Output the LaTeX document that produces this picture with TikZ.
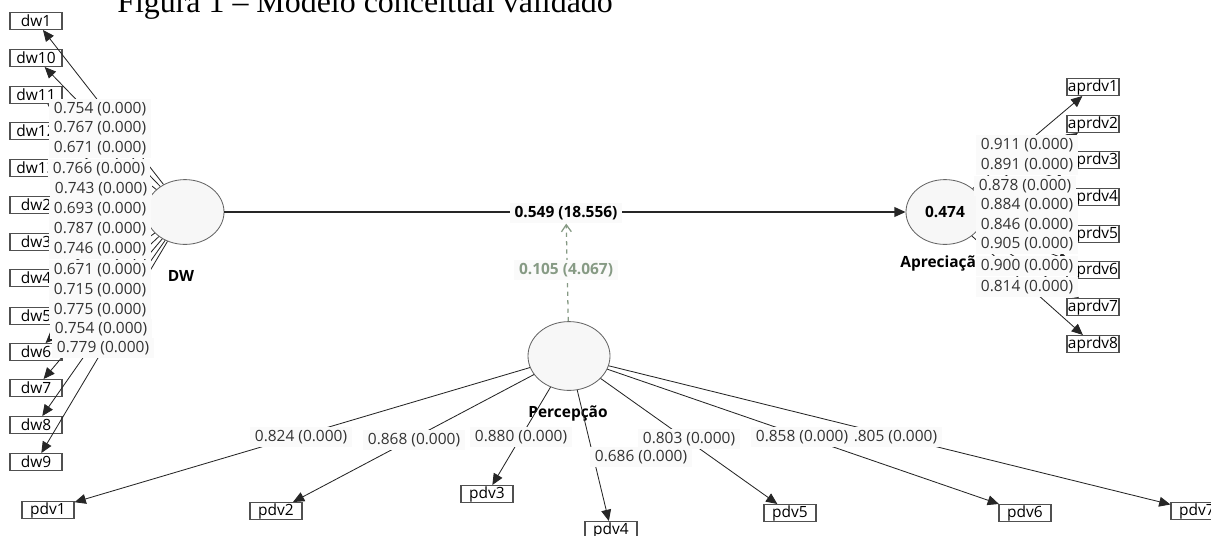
\documentclass[tikz,border=0pt]{standalone}
\usepackage{fontspec}
\setsansfont{Open Sans}
\newfontfamily\legendafont{Liberation Serif}
\usepackage{tikz}
\usetikzlibrary{arrows.meta, shapes.geometric}
\definecolor{plsborda}{HTML}{505050}
\definecolor{plsfundo}{HTML}{F7F7F7}
\definecolor{plsrotulo}{HTML}{FAFAFA}
\definecolor{plsverde}{HTML}{869A84}

\begin{document}
\begin{tikzpicture}[
        x=0.025cm,
        y=-0.025cm,
        font=\sffamily\fontsize{11}{13}\selectfont,
        construto/.style={
            ellipse,
            draw=black!60,
            fill=plsfundo,
            line width=0.6pt,
            minimum width=1.95cm,
            minimum height=1.62cm,
            inner sep=0pt
        },
        nomeconstruto/.style={
            font=\sffamily\bfseries\fontsize{11}{13}\selectfont
        },
        indicador/.style={
            draw=plsborda,
            line width=0.8pt,
            fill=white,
            minimum width=1.3cm,
            minimum height=0.42cm,
            inner sep=0.5pt
        },
        carga/.style={
            fill=plsrotulo,
            text=black!80,
            inner xsep=3.5pt,
            inner ysep=2.5pt
        },
        seta/.style={
            draw=black!85,
            line width=0.6pt,
            -{Triangle[length=8pt,width=7pt]}
        }
    ]

    \useasboundingbox (0,0) rectangle (1211,535);
    \begin{scope}
    \clip (0,0) rectangle (1211,535);

    % Legenda (cortada no topo)
    \node[anchor=base west, inner sep=0pt, font=\legendafont\fontsize{22.7}{26}\selectfont] (legenda) at (117,12)
        {Figura 1 – Modelo conceitual validado};

    % Indicadores de DW
    \node[indicador] (dw1) at (36,21) {dw1};
    \node[indicador] (dw10) at (36,58) {dw10};
    \node[indicador] (dw11) at (36,95) {dw11};
    \node[indicador] (dw12) at (36,131) {dw12};
    \node[indicador] (dw13) at (36,168) {dw13};
    \node[indicador] (dw2) at (36,205) {dw2};
    \node[indicador] (dw3) at (36,242) {dw3};
    \node[indicador] (dw4) at (36,278) {dw4};
    \node[indicador] (dw5) at (36,316) {dw5};
    \node[indicador] (dw6) at (36,352) {dw6};
    \node[indicador] (dw7) at (36,388) {dw7};
    \node[indicador] (dw8) at (36,425) {dw8};
    \node[indicador] (dw9) at (36,462) {dw9};

    % Indicadores de Apreciação
    \node[indicador] (aprdv1) at (1093,87) {aprdv1};
    \node[indicador] (aprdv2) at (1093,124) {aprdv2};
    \node[indicador] (aprdv3) at (1093,160) {aprdv3};
    \node[indicador] (aprdv4) at (1093,197) {aprdv4};
    \node[indicador] (aprdv5) at (1093,234) {aprdv5};
    \node[indicador] (aprdv6) at (1093,270) {aprdv6};
    \node[indicador] (aprdv7) at (1093,307) {aprdv7};
    \node[indicador] (aprdv8) at (1093,344) {aprdv8};

    % Indicadores de Percepção
    \node[indicador] (pdv1) at (48,510) {pdv1};
    \node[indicador] (pdv2) at (276,511) {pdv2};
    \node[indicador] (pdv3) at (487,494) {pdv3};
    \node[indicador] (pdv4) at (611,530) {pdv4};
    \node[indicador] (pdv5) at (790,513) {pdv5};
    \node[indicador] (pdv6) at (1025,513) {pdv6};
    \node[indicador] (pdv7) at (1197,511) {pdv7};

    % Construtos
    \node[construto] (dw) at (185,212) {};
    \node[construto] (apr) at (945,212) {\bfseries 0.474};
    \node[construto, minimum width=2.05cm, minimum height=1.72cm] (perc) at (569,356) {};

    \node[nomeconstruto] (dwnome) at (181,276) {DW};
    \node[nomeconstruto] (aprnome) at (943,263) {Apreciação};
    \node[nomeconstruto] (percnome) at (568,413) {Percepção};

    % Cargas externas: DW
    \draw[seta] (dw) -- (dw1);
    \draw[seta] (dw) -- (dw10);
    \draw[seta] (dw) -- (dw11);
    \draw[seta] (dw) -- (dw12);
    \draw[seta] (dw) -- (dw13);
    \draw[seta] (dw) -- (dw2);
    \draw[seta] (dw) -- (dw3);
    \draw[seta] (dw) -- (dw4);
    \draw[seta] (dw) -- (dw5);
    \draw[seta] (dw) -- (dw6);
    \draw[seta] (dw) -- (dw7);
    \draw[seta] (dw) -- (dw8);
    \draw[seta] (dw) -- (dw9);

    % Cargas externas: Apreciação
    \draw[seta] (apr) -- (aprdv1);
    \draw[seta] (apr) -- (aprdv2);
    \draw[seta] (apr) -- (aprdv3);
    \draw[seta] (apr) -- (aprdv4);
    \draw[seta] (apr) -- (aprdv5);
    \draw[seta] (apr) -- (aprdv6);
    \draw[seta] (apr) -- (aprdv7);
    \draw[seta] (apr) -- (aprdv8);

    % Cargas externas: Percepção
    \draw[seta] (perc) -- (pdv1);
    \draw[seta] (perc) -- (pdv2);
    \draw[seta] (perc) -- (pdv3);
    \draw[seta] (perc) -- (pdv4);
    \draw[seta] (perc) -- (pdv5);
    \draw[seta] (perc) -- (pdv6);
    \draw[seta] (perc) -- (pdv7);

    % Caminho estrutural e moderação
    \draw[seta, line width=1pt] (dw) -- (apr);
    \node[carga, text=black, font=\sffamily\bfseries\fontsize{11}{13}\selectfont] (coef) at (566,213)
        {0.549 (18.556)};
    \draw[draw=plsverde, line width=0.9pt, dashed, -{Straight Barb[length=5pt,width=7pt]}] (perc) -- (coef);
    \node[carga, text=plsverde, font=\sffamily\bfseries\fontsize{11}{13}\selectfont] (modera) at (566,270)
        {0.105 (4.067)};

    % Rótulos: DW
    \node[carga] (c-dw1) at (100,109) {0.754 (0.000)};
    \node[carga] (c-dw10) at (100,128) {0.767 (0.000)};
    \node[carga] (c-dw11) at (100,148) {0.671 (0.000)};
    \node[carga] (c-dw12) at (99,169) {0.766 (0.000)};
    \node[carga] (c-dw13) at (101,189) {0.743 (0.000)};
    \node[carga] (c-dw2) at (100,209) {0.693 (0.000)};
    \node[carga] (c-dw3) at (100,229) {0.787 (0.000)};
    \node[carga] (c-dw4) at (100,249) {0.746 (0.000)};
    \node[carga] (c-dw5) at (100,270) {0.671 (0.000)};
    \node[carga] (c-dw6) at (100,290) {0.715 (0.000)};
    \node[carga] (c-dw7) at (100,310) {0.775 (0.000)};
    \node[carga] (c-dw8) at (101,329) {0.754 (0.000)};
    \node[carga] (c-dw9) at (103,348) {0.779 (0.000)};

    % Rótulos: Apreciação
    \node[carga] (c-apr1) at (1027,145) {0.911 (0.000)};
    \node[carga] (c-apr2) at (1027,165) {0.891 (0.000)};
    \node[carga] (c-apr3) at (1025,186) {0.878 (0.000)};
    \node[carga] (c-apr4) at (1027,205) {0.884 (0.000)};
    \node[carga] (c-apr5) at (1027,225) {0.846 (0.000)};
    \node[carga] (c-apr6) at (1027,244) {0.905 (0.000)};
    \node[carga] (c-apr7) at (1027,266) {0.900 (0.000)};
    \node[carga] (c-apr8) at (1027,287) {0.814 (0.000)};

    % Rótulos: Percepção
    \node[carga] (c-pdv1) at (301,437) {0.824 (0.000)};
    \node[carga] (c-pdv2) at (414,440) {0.868 (0.000)};
    \node[carga] (c-pdv3) at (521,437) {0.880 (0.000)};
    \node[carga] (c-pdv4) at (641,457) {0.686 (0.000)};
    \node[carga] (c-pdv5) at (689,439) {0.803 (0.000)};
    \node[carga] (c-pdv7) at (891,437) {0.805 (0.000)};
    \node[carga] (c-pdv6) at (802,437) {0.858 (0.000)};

    \end{scope}

\end{tikzpicture}
\end{document}
